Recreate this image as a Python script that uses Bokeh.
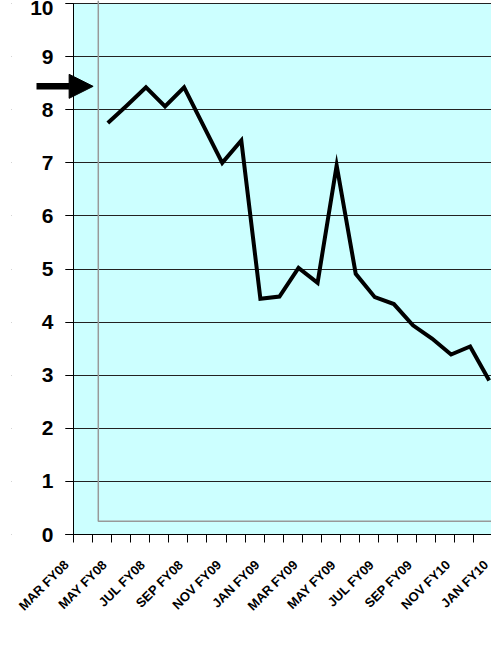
import math
from bokeh.plotting import figure
from bokeh.models import Range1d, FixedTicker, Arrow, NormalHead, LinearAxis, BoxAnnotation
from bokeh.embed import file_html
from bokeh.resources import INLINE

# ---- data ----
tick_labels = ["MAR FY08", "MAY FY08", "JUL FY08", "SEP FY08", "NOV FY09", "JAN FY09",
               "MAR FY09", "MAY FY09", "JUL FY09", "SEP FY09", "NOV FY10", "JAN FY10"]
values = [7.75, 8.08, 8.42, 8.06, 8.42, 7.71, 7.00, 7.42, 4.44, 4.48, 5.02, 4.74,
          6.95, 4.91, 4.47, 4.34, 3.94, 3.69, 3.39, 3.54, 2.90]
first_month_pos = 1.80          # position of first value on the month axis
target = 8.44                   # arrow marker level
y_ticks = list(range(0, 11))
n_months = 22

# ---- layout constants ----
MONTH_PX = 19.07
UNIT_PX = 53.1
LEFT_PX = 62                    # frame begins this many px left of the value axis
X_START = -LEFT_PX / MONTH_PX
X_END = 21.92
AXIS_LEFT = -8 / MONTH_PX       # where the category axis line begins
Y_START = -91 / UNIT_PX         # frame extends below zero for the labels
Y_END = 10 + 3 / UNIT_PX
INNER_X = 1.30
INNER_Y = 0.25
LABEL_SHIFT = -0.367

p = figure(width=491, height=640,
           x_range=Range1d(X_START, X_END), y_range=Range1d(Y_START, Y_END),
           output_backend="svg", toolbar_location=None,
           x_axis_location=None,
           min_border_left=73 - LEFT_PX, min_border_right=0, min_border_top=0,
           min_border_bottom=15)

p.background_fill_color = "white"
p.border_fill_color = "white"
p.outline_line_color = None
p.xgrid.visible = False

# cyan plot area
p.add_layout(BoxAnnotation(left=0, bottom=0, top=10, fill_color="#CCFFFF", fill_alpha=1.0,
                           line_color=None, level="image"))

p.ygrid.ticker = FixedTicker(ticks=y_ticks)
p.ygrid.grid_line_color = "#222222"
p.ygrid.grid_line_width = 1

# hide grid lines left of the tick marks
p.add_layout(BoxAnnotation(right=AXIS_LEFT, fill_color="white", fill_alpha=1.0,
                           line_color=None, level="underlay"))

ya = p.yaxis[0]
ya.fixed_location = 0
ya.bounds = (0, 10)
ya.ticker = FixedTicker(ticks=y_ticks)
ya.major_label_text_font = "Liberation Sans"
ya.major_label_text_font_style = "bold"
ya.major_label_text_font_size = "21px"
ya.major_label_text_color = "black"
ya.major_tick_out = 8
ya.major_tick_in = 0
ya.minor_tick_out = 0
ya.minor_tick_in = 0
ya.axis_line_color = "black"
ya.major_tick_line_color = "black"
ya.major_label_standoff = 12

label_pos = [LABEL_SHIFT + 2 * k for k in range(len(tick_labels))]

xa = LinearAxis(
    fixed_location=0,
    ticker=FixedTicker(ticks=label_pos, minor_ticks=list(range(0, n_months))),
    bounds=(AXIS_LEFT, X_END),
    major_label_overrides={pos: lab for pos, lab in zip(label_pos, tick_labels)},
    major_label_orientation=math.pi / 4,
    major_tick_out=0, major_tick_in=0,
    minor_tick_out=8, minor_tick_in=0,
    minor_tick_line_color="black",
    axis_line_color="black",
    major_label_standoff=20,
    major_label_text_font="Liberation Sans",
    major_label_text_font_style="bold",
    major_label_text_font_size="13px",
    major_label_text_color="black",
)
p.add_layout(xa, "below")

# inner (gray) plot-area border
p.line([INNER_X, INNER_X, X_END + 1], [Y_END, INNER_Y, INNER_Y],
       line_color="#999999", line_width=1.5)

# data line
xs = [first_month_pos + k for k in range(len(values))]
p.line(xs, values, line_color="black", line_width=4, line_join="miter")

# arrow marker
p.add_layout(Arrow(end=NormalHead(size=24, fill_color="black", line_color="black", line_width=1),
                   x_start=-1.94, y_start=target, x_end=1.03, y_end=target,
                   line_width=6.5, line_color="black"))

open("out.html", "w").write(file_html(p, INLINE))
